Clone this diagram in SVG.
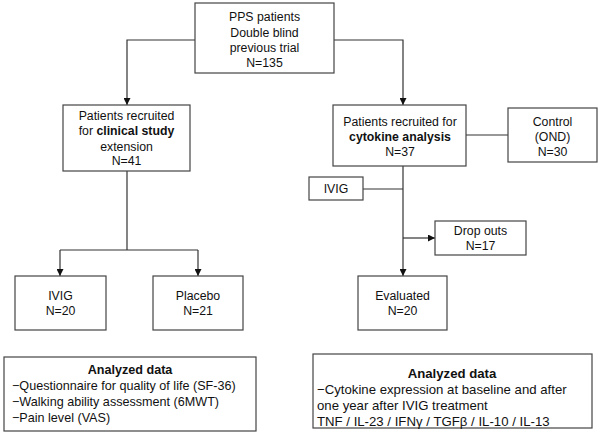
<svg xmlns="http://www.w3.org/2000/svg" width="600" height="435" viewBox="0 0 600 435">
<defs>
<marker id="ah" viewBox="0 0 10 10" refX="10" refY="5" markerWidth="7" markerHeight="7" markerUnits="userSpaceOnUse" orient="auto">
<path d="M0,0 L10,5 L0,10 z" fill="#111"/>
</marker>
<style>
rect{fill:#fff;stroke:#444;stroke-width:1.2}
text{font-family:"Liberation Sans",Arial,sans-serif;font-size:12.3px;fill:#111}
.c{text-anchor:middle}
.b{font-weight:bold}
.l{font-size:12.6px}
.r{font-size:13.2px}
.ln{fill:none;stroke:#333;stroke-width:1.2}
.ar{marker-end:url(#ah)}
</style>
</defs>
<rect width="600" height="435" style="fill:#fff;stroke:none"/>
<g id="connectors">
<path class="ln ar" d="M195,40 H127 V105"/>
<path class="ln ar" d="M334,40 H403 V105"/>
<path class="ln" d="M127,171 V250"/>
<path class="ln" d="M60,250 H198"/>
<path class="ln ar" d="M60,250 V276"/>
<path class="ln ar" d="M198,250 V276"/>
<path class="ln" d="M466,135 H508"/>
<path class="ln" d="M363,189 H403"/>
<path class="ln ar" d="M403,166 V276"/>
<path class="ln ar" d="M403,238 H435"/>
</g>
<g id="pps">
<rect x="195" y="3" width="139" height="70"/>
<text class="c" x="264.5" y="21">PPS patients</text>
<text class="c" x="264.5" y="37">Double blind</text>
<text class="c" x="264.5" y="52">previous trial</text>
<text class="c" x="264.5" y="67">N=135</text>
</g>
<g id="clinical">
<rect x="63" y="105" width="127" height="66"/>
<text class="c" x="126.5" y="120">Patients recruited</text>
<text class="c" x="126.5" y="135">for <tspan class="b">clinical study</tspan></text>
<text class="c" x="126.5" y="151">extension</text>
<text class="c" x="126.5" y="165">N=41</text>
</g>
<g id="ivig-left">
<rect x="15" y="276" width="91" height="54"/>
<text class="c" x="60.5" y="300">IVIG</text>
<text class="c" x="60.5" y="315">N=20</text>
</g>
<g id="placebo">
<rect x="153" y="276" width="90" height="54"/>
<text class="c" x="198" y="300">Placebo</text>
<text class="c" x="198" y="315">N=21</text>
</g>
<g id="cytokine">
<rect x="333" y="105" width="133" height="61"/>
<text class="c" x="400" y="126">Patients recruited for</text>
<text class="c b" x="400" y="141">cytokine analysis</text>
<text class="c" x="400" y="156">N=37</text>
</g>
<g id="control">
<rect x="508" y="108" width="89" height="54"/>
<text class="c" x="552.5" y="126">Control</text>
<text class="c" x="552.5" y="141">(OND)</text>
<text class="c" x="552.5" y="156">N=30</text>
</g>
<g id="ivig-right">
<rect x="309" y="177" width="54" height="23"/>
<text class="c" x="336" y="193">IVIG</text>
</g>
<g id="dropouts">
<rect x="435" y="221" width="91" height="34"/>
<text class="c" x="480.5" y="235">Drop outs</text>
<text class="c" x="480.5" y="250">N=17</text>
</g>
<g id="evaluated">
<rect x="358" y="276" width="89" height="54"/>
<text class="c" x="402.5" y="300">Evaluated</text>
<text class="c" x="402.5" y="315">N=20</text>
</g>
<g id="analyzed-left">
<rect x="4" y="357" width="252" height="74"/>
<text class="c b l" x="130" y="374">Analyzed data</text>
<text class="l" x="12" y="389.5">−Questionnaire for quality of life (SF-36)</text>
<text class="l" x="12" y="405.5">−Walking ability assessment (6MWT)</text>
<text class="l" x="12" y="421.5">−Pain level (VAS)</text>
</g>
<g id="analyzed-right">
<rect x="313" y="354" width="279" height="74"/>
<text class="c b r" x="452" y="378">Analyzed data</text>
<text class="r" x="317" y="394">−Cytokine expression at baseline and after</text>
<text class="r" x="317" y="410">one year after IVIG treatment</text>
<text class="r" x="317" y="426">TNF / IL-23 / IFNγ / TGFβ / IL-10 / IL-13</text>
</g>
</svg>
